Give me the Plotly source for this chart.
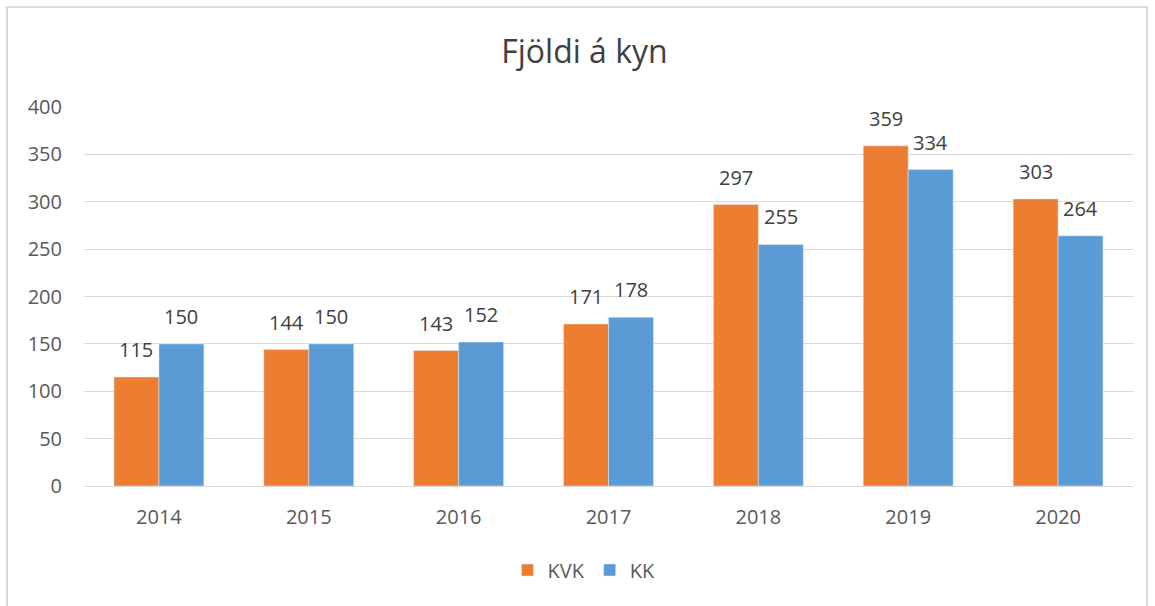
import plotly.graph_objects as go

years = ["2014", "2015", "2016", "2017", "2018", "2019", "2020"]
kvk = [115, 144, 143, 171, 297, 359, 303]
kk = [150, 150, 152, 178, 255, 334, 264]
y_ticks = [0, 50, 100, 150, 200, 250, 300, 350, 400]

W, H = 1155, 606
L, R, T, B = 84, 22, 107, 120
pw, ph = W - L - R, H - T - B

def px_x(x):
    return (x - L) / pw

def px_y(y):
    return (H - B - y) / ph

font_family = "Open Sans, Noto Sans, sans-serif"
gray = "#595959"
fs = 20
bar_px = pw / len(years) * 0.6 / 2

fig = go.Figure()
fig.add_trace(go.Bar(name="KVK", x=years, y=kvk, marker_color="#ED7D31"))
fig.add_trace(go.Bar(name="KK", x=years, y=kk, marker_color="#5B9BD5"))

annotations = []
for series, sign in ((kvk, -1), (kk, 1)):
    for i, v in enumerate(series):
        annotations.append(dict(x=i, y=v, xref="x", yref="y", text=str(v), showarrow=False,
                                xanchor="center", yanchor="bottom",
                                xshift=sign * bar_px / 2, yshift=12,
                                font=dict(size=fs, color="#404040", family=font_family)))

fig.update_layout(
    width=W, height=H,
    margin=dict(l=L, r=R, t=T, b=B),
    paper_bgcolor="white", plot_bgcolor="white",
    barmode="group", bargap=0.4, bargroupgap=0,
    font=dict(family=font_family, color=gray, size=fs),
    title=dict(text="Fjöldi á kyn", x=0.506, xanchor="center", y=1 - 52 / H, yanchor="middle",
               xref="container", yref="container",
               font=dict(size=32, color="#404040", family=font_family)),
    legend=dict(orientation="h", x=px_x(584), xanchor="center", y=px_y(570), yanchor="middle",
                font=dict(size=fs, color=gray), traceorder="normal"),
    showlegend=True,
    annotations=annotations,
    xaxis=dict(type="category", range=[-0.5, len(years) - 0.5], showgrid=False, showline=False,
               ticks="", tickfont=dict(size=fs, color=gray), ticklabelstandoff=17),
    yaxis=dict(range=[0, 400], tickvals=y_ticks, showgrid=True, gridcolor="#d9d9d9", gridwidth=1,
               zeroline=True, zerolinecolor="#d9d9d9", zerolinewidth=1, showline=False,
               tickfont=dict(size=fs, color=gray), ticks="", ticklabelstandoff=21),
    shapes=[dict(type="rect", xref="paper", yref="paper",
                 x0=px_x(7), x1=px_x(1147), y0=px_y(640), y1=px_y(7),
                 line=dict(color="#d9d9d9", width=2), fillcolor="rgba(0,0,0,0)", layer="below")],
)

fig.write_html("out.html", config={"displayModeBar": False},
               post_script="document.body.style.margin='0';")
